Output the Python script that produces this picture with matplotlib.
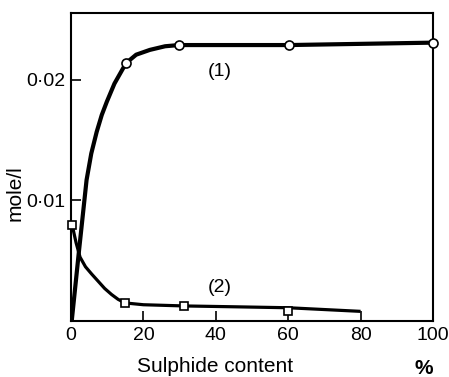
import numpy as np
import matplotlib.pyplot as plt

plt.rcParams['font.family'] = ['Liberation Sans', 'DejaVu Sans']

# curve (1): measured points (open circles)
c1_x = [15.2, 29.8, 60.3, 100]
c1_y = [0.0214, 0.0229, 0.0229, 0.0231]
# curve (1): drawn line
c1_line_x = [0.2, 2.2, 4.3, 5.6, 7.1, 8.5, 9.9, 12, 15.2, 18, 21.8, 26, 29.8, 40, 60.3, 100]
c1_line_y = [0, 0.0058, 0.0117, 0.0139, 0.0157, 0.0171, 0.0182, 0.0197, 0.0214, 0.0221, 0.0225, 0.0228, 0.0229, 0.0229, 0.0229, 0.0231]

# curve (2): measured points (open squares)
c2_x = [0.3, 14.9, 31.2, 60]
c2_y = [0.0080, 0.0015, 0.00125, 0.0008]
# curve (2): drawn line
c2_line_x = [0.3, 1.4, 2.5, 4, 5.7, 7.5, 9.3, 11.2, 13, 14.9, 20, 31.2, 45, 60, 80]
c2_line_y = [0.0080, 0.0065, 0.0053, 0.0045, 0.0039, 0.0033, 0.0027, 0.0022, 0.0018, 0.0015, 0.00135, 0.00125, 0.00118, 0.0011, 0.0008]

x_ticks = [0, 20, 40, 60, 80, 100]
y_ticks = [0.01, 0.02]
y_tick_labels = ['0·01', '0·02']

W, H = 449, 377
fig = plt.figure(figsize=(W / 100, H / 100), dpi=100)
ax = fig.add_axes([71 / W, 1 - 321 / H, 362 / W, 308 / H])

ax.plot(c1_line_x, c1_line_y, color='black', lw=3.0, solid_capstyle='butt', zorder=2)
ax.plot(c2_line_x, c2_line_y, color='black', lw=2.3, solid_capstyle='butt', zorder=2)
ax.plot(c1_x, c1_y, 'o', ms=6.5, mfc='white', mec='black', mew=1.2, clip_on=False, zorder=3)
ax.plot(c2_x, c2_y, 's', ms=5.5, mfc='white', mec='black', mew=1.2, clip_on=False, zorder=3)

ax.text(41, 0.0207, '(1)', fontsize=14, ha='center', va='center')
ax.text(41, 0.00275, '(2)', fontsize=14, ha='center', va='center')

ax.set_xlim(0, 100)
ax.set_ylim(0, 0.02556)
ax.set_xticks(x_ticks)
ax.set_xticklabels([str(t) for t in x_ticks])
ax.set_yticks(y_ticks)
ax.set_yticklabels(y_tick_labels)
ax.tick_params(direction='in', length=7, width=1.2, labelsize=14, pad=4)
for s in ax.spines.values():
    s.set_linewidth(1.5)

# axis titles placed by pixel position
fig.text(215 / W, 1 - 367 / H, 'Sulphide content', fontsize=15, ha='center', va='center')
fig.text(15 / W, 1 - 193 / H, 'mole/l', fontsize=15, rotation=90, ha='center', va='center')
fig.text(424 / W, 1 - 368 / H, '%', fontsize=15, fontweight='bold', ha='center', va='center')

fig.savefig('out.png', dpi=100)
